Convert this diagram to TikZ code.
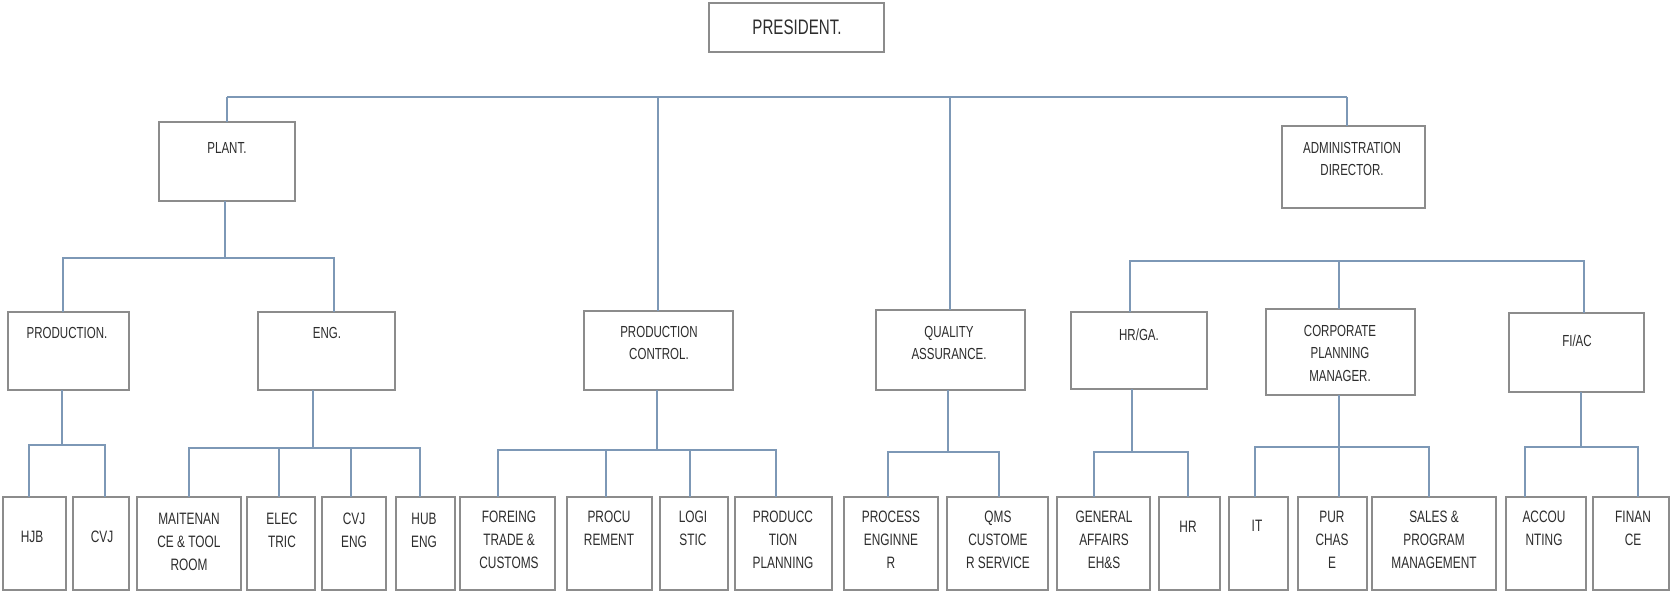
\documentclass[tikz,border=0pt]{standalone}
\usepackage{fontspec}
\setmainfont[FakeStretch=0.72]{Liberation Sans}
\definecolor{boxgray}{RGB}{140,140,140}
\definecolor{linecol}{RGB}{125,152,182}
\definecolor{txtcol}{RGB}{45,45,45}
\newcommand\mkbox[5]{\node[box, minimum width={(#4)-(#2)}, minimum height={(#5)-(#3)}] (#1) at (#2,#3) {};}
\begin{document}
\begin{tikzpicture}[x=1pt,y=-1pt,
  box/.style={draw=boxgray, line width=2pt, inner sep=0pt, outer sep=0pt, anchor=north west, fill=white},
  conn/.style={draw=linecol, line width=1.4pt},
  lbl/.style={font=\fontsize{16}{22.5}\selectfont, text=txtcol, align=center, inner sep=0pt},
  lblb/.style={font=\fontsize{16.5}{23}\selectfont, text=txtcol, align=center, inner sep=0pt}]
\useasboundingbox[fill=white] (0,0) rectangle (1670,594);

% ---- boxes ----
\mkbox{pres}{709}{3}{884}{52}
\mkbox{plant}{159}{122}{295}{201}
\mkbox{admin}{1282}{126}{1425}{208}
\mkbox{prod}{8}{312}{129}{390}
\mkbox{eng}{258}{312}{395}{390}
\mkbox{pc}{584}{311}{733}{390}
\mkbox{qa}{876}{310}{1025}{390}
\mkbox{hrga}{1071}{312}{1207}{389}
\mkbox{cpm}{1266}{309}{1415}{395}
\mkbox{fiac}{1509}{313}{1644}{392}

\mkbox{hjb}{3}{497}{66}{590}
\mkbox{cvj}{73}{497}{129}{590}
\mkbox{mait}{137}{497}{241}{590}
\mkbox{elec}{247}{497}{315}{590}
\mkbox{cvjeng}{322}{497}{386}{590}
\mkbox{hubeng}{396}{497}{455}{590}
\mkbox{foreing}{460}{497}{555}{590}
\mkbox{procu}{567}{497}{652}{590}
\mkbox{logi}{660}{497}{728}{590}
\mkbox{pplan}{735}{497}{832}{590}
\mkbox{proceng}{844}{497}{938}{590}
\mkbox{qms}{947}{497}{1048}{590}
\mkbox{genaff}{1057}{497}{1150}{590}
\mkbox{hr}{1159}{497}{1220}{590}
\mkbox{it}{1229}{497}{1288}{590}
\mkbox{purch}{1298}{497}{1367}{590}
\mkbox{sales}{1372}{497}{1496}{590}
\mkbox{accou}{1506}{497}{1586}{590}
\mkbox{finan}{1593}{497}{1669}{590}

% ---- labels ----
\node[lbl, font=\fontsize{21}{24}\selectfont] (pres-t) at (797,27) {PRESIDENT.};
\node[lbl] (plant-t) at (227,148) {PLANT.};
\node[lbl] (admin-t) at (1352,159) {ADMINISTRATION\\DIRECTOR.};
\node[lbl] (prod-t) at (67,333) {PRODUCTION.};
\node[lbl] (eng-t) at (327,333) {ENG.};
\node[lbl] (pc-t) at (659,343) {PRODUCTION\\CONTROL.};
\node[lbl] (qa-t) at (949,343) {QUALITY\\ASSURANCE.};
\node[lbl] (hrga-t) at (1139,335) {HR/GA.};
\node[lbl] (cpm-t) at (1340,353) {CORPORATE\\PLANNING\\MANAGER.};
\node[lbl] (fiac-t) at (1577,341) {FI/AC};

\node[lblb] (hjb-t) at (32,537) {HJB};
\node[lblb] (cvj-t) at (102,537) {CVJ};
\node[lblb] (mait-t) at (189,542) {MAITENAN\\CE \& TOOL\\ROOM};
\node[lblb] (elec-t) at (282,530) {ELEC\\TRIC};
\node[lblb] (cvjeng-t) at (354,530) {CVJ\\ENG};
\node[lblb] (hubeng-t) at (424,530) {HUB\\ENG};
\node[lblb] (foreing-t) at (509,540) {FOREING\\TRADE \&\\CUSTOMS};
\node[lblb] (procu-t) at (609,528) {PROCU\\REMENT};
\node[lblb] (logi-t) at (693,528) {LOGI\\STIC};
\node[lblb] (pplan-t) at (783,540) {PRODUCC\\TION\\PLANNING};
\node[lblb] (proceng-t) at (891,540) {PROCESS\\ENGINNE\\R};
\node[lblb] (qms-t) at (998,540) {QMS\\CUSTOME\\R SERVICE};
\node[lblb] (genaff-t) at (1104,540) {GENERAL\\AFFAIRS\\EH\&S};
\node[lblb] (hr-t) at (1188,527) {HR};
\node[lblb] (it-t) at (1257,526) {IT};
\node[lblb] (purch-t) at (1332,540) {PUR\\CHAS\\E};
\node[lblb] (sales-t) at (1434,540) {SALES \&\\PROGRAM\\MANAGEMENT};
\node[lblb] (accou-t) at (1544,528) {ACCOU\\NTING};
\node[lblb] (finan-t) at (1633,528) {FINAN\\CE};

% ---- top bus ----
\coordinate (t1) at (227,97);
\coordinate (t2) at (658,97);
\coordinate (t3) at (950,97);
\coordinate (t4) at (1347,97);
\draw[conn] (t1) -- (t4);
\draw[conn] (t1) -- (t1 |- plant.north);
\draw[conn] (t2) -- (t2 |- pc.north);
\draw[conn] (t3) -- (t3 |- qa.north);
\draw[conn] (t4) -- (t4 |- admin.north);

% ---- plant bus ----
\coordinate (pb) at (225,258);
\coordinate (pbL) at (63,258);
\coordinate (pbR) at (334,258);
\draw[conn] (pb |- plant.south) -- (pb);
\draw[conn] (pbL |- prod.north) -- (pbL) -- (pbR) -- (pbR |- eng.north);

% ---- admin bus ----
\coordinate (ab1) at (1130,261);
\coordinate (ab2) at (1339,261);
\coordinate (ab3) at (1584,261);
\draw[conn] (ab1 |- hrga.north) -- (ab1) -- (ab3) -- (ab3 |- fiac.north);
\draw[conn] (ab2) -- (ab2 |- cpm.north);

% ---- production ----
\coordinate (prb) at (62,445);
\coordinate (prb1) at (29,445);
\coordinate (prb2) at (105,445);
\draw[conn] (prb |- prod.south) -- (prb);
\draw[conn] (prb1 |- hjb.north) -- (prb1) -- (prb2) -- (prb2 |- cvj.north);

% ---- eng ----
\coordinate (eb) at (313,448);
\coordinate (eb1) at (189,448);
\coordinate (eb2) at (279,448);
\coordinate (eb3) at (351,448);
\coordinate (eb4) at (420,448);
\draw[conn] (eb |- eng.south) -- (eb);
\draw[conn] (eb1 |- mait.north) -- (eb1) -- (eb4) -- (eb4 |- hubeng.north);
\draw[conn] (eb2) -- (eb2 |- elec.north);
\draw[conn] (eb3) -- (eb3 |- cvjeng.north);

% ---- production control ----
\coordinate (cb) at (657,450);
\coordinate (cb1) at (498,450);
\coordinate (cb2) at (606,450);
\coordinate (cb3) at (690,450);
\coordinate (cb4) at (776,450);
\draw[conn] (cb |- pc.south) -- (cb);
\draw[conn] (cb1 |- foreing.north) -- (cb1) -- (cb4) -- (cb4 |- pplan.north);
\draw[conn] (cb2) -- (cb2 |- procu.north);
\draw[conn] (cb3) -- (cb3 |- logi.north);

% ---- quality assurance ----
\coordinate (qb) at (948,452);
\coordinate (qb1) at (888,452);
\coordinate (qb2) at (999,452);
\draw[conn] (qb |- qa.south) -- (qb);
\draw[conn] (qb1 |- proceng.north) -- (qb1) -- (qb2) -- (qb2 |- qms.north);

% ---- hr/ga ----
\coordinate (hb) at (1132,452);
\coordinate (hb1) at (1094,452);
\coordinate (hb2) at (1188,452);
\draw[conn] (hb |- hrga.south) -- (hb);
\draw[conn] (hb1 |- genaff.north) -- (hb1) -- (hb2) -- (hb2 |- hr.north);

% ---- corporate planning ----
\coordinate (kb) at (1339,447);
\coordinate (kb1) at (1255,447);
\coordinate (kb2) at (1429,447);
\draw[conn] (kb |- cpm.south) -- (kb |- purch.north);
\draw[conn] (kb1 |- it.north) -- (kb1) -- (kb2) -- (kb2 |- sales.north);

% ---- fi/ac ----
\coordinate (fb) at (1581,447);
\coordinate (fb1) at (1525,447);
\coordinate (fb2) at (1638,447);
\draw[conn] (fb |- fiac.south) -- (fb);
\draw[conn] (fb1 |- accou.north) -- (fb1) -- (fb2) -- (fb2 |- finan.north);
\end{tikzpicture}
\end{document}
